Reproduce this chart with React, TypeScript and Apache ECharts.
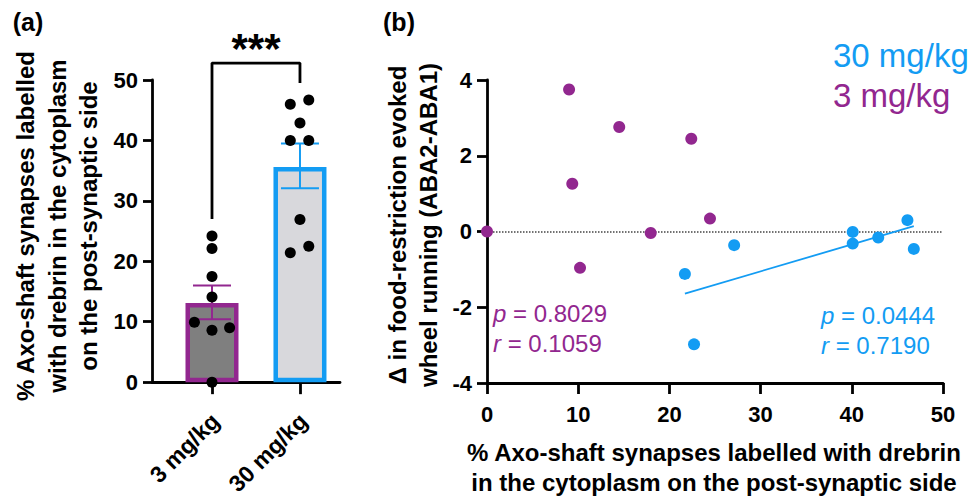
import React, { useEffect, useRef } from "react";
import * as echarts from "echarts";

// ---------- Panel (a) data ----------
const barCategories = ["3 mg/kg", "30 mg/kg"];
const barX = [1, 2];
const barMeans = [13.1, 35.6];
const errLow = [10.4, 32.1];
const errHigh = [16.0, 39.5];
const dots3 = [
  [1, 24.2], [1, 22.1], [1, 17.5], [1, 14.1],
  [0.8, 9.9], [1, 8.6], [1.2, 9.0], [1, 0],
];
const dots30 = [
  [1.89, 46.0], [2.1, 46.7], [2, 42.9], [1.89, 40.0],
  [2.1, 40.0], [2, 26.9], [1.89, 21.4], [2.1, 22.5],
];
const bracket = [[1, 27.0], [1, 52.8], [2, 52.8], [2, 49.5]];

// ---------- Panel (b) data ----------
const scatter3 = [
  [0, 0], [9.0, 3.75], [9.35, 1.26], [10.2, -0.96],
  [14.5, 2.76], [17.95, -0.04], [22.4, 2.45], [24.45, 0.34],
];
const scatter30 = [
  [21.7, -1.12], [22.7, -2.98], [27.1, -0.36], [40.1, -0.01],
  [40.1, -0.32], [42.9, -0.16], [46.1, 0.30], [46.8, -0.46],
];
const fit30 = [[21.7, -1.64], [46.8, 0.14]];

const PURPLE = "#92278f";
const BLUE = "#139cf3";
const FONT = '"Liberation Sans", Arial, Helvetica, sans-serif';

function txt(
  text: string,
  x: number,
  y: number,
  opts: { size: number; bold?: boolean; color?: string; align?: string; rotation?: number; rich?: any }
) {
  return {
    type: "text",
    x,
    y,
    rotation: opts.rotation || 0,
    silent: true,
    style: {
      text,
      fontSize: opts.size,
      fontWeight: opts.bold ? "bold" : "normal",
      fontFamily: FONT,
      fill: opts.color || "#000",
      align: opts.align || "center",
      textAlign: opts.align || "center",
      verticalAlign: "middle",
      textVerticalAlign: "middle",
      rich: opts.rich,
    },
  };
}

function italic(color: string) {
  return { i: { fontStyle: "italic", fontSize: 24, fontFamily: FONT, fill: color, color } };
}

export default function App() {
  const ref = useRef<HTMLDivElement>(null);

  useEffect(() => {
    if (!ref.current) return;
    const chart = echarts.init(ref.current, undefined, { renderer: "svg" });

    const axisLine = { show: true, onZero: false, lineStyle: { color: "#000", width: 2.8, opacity: 1 } };
    const tickStyle = { color: "#000", width: 2.8, opacity: 1 };
    const labelStyle = { color: "#000", fontSize: 22, fontWeight: "bold", fontFamily: FONT, opacity: 1 };

    const fills = ["#7f7f7f", "#d8d8dc"];
    const borders = [PURPLE, BLUE];

    const option: any = {
      animation: false,
      backgroundColor: "#fff",
      grid: [
        { left: 152, top: 80, width: 188, height: 304 },
        { left: 487, top: 80, width: 456, height: 303 },
      ],
      xAxis: [
        {
          type: "value",
          gridIndex: 0,
          min: 0.318,
          max: 2.455,
          axisLine,
          axisTick: { show: true, customValues: barX, length: 12, lineStyle: tickStyle },
          axisLabel: {
            ...labelStyle,
            fontSize: 23,
            customValues: barX,
            rotate: 45,
            margin: 22,
            align: "right",
            verticalAlign: "top",
            padding: [0, 7, 0, 0],
            formatter: (v: number) => barCategories[Math.round(v) - 1] || "",
          },
          splitLine: { show: false },
        },
        {
          type: "value",
          gridIndex: 1,
          min: 0,
          max: 50,
          interval: 10,
          axisLine,
          axisTick: { show: true, length: 11, lineStyle: tickStyle },
          axisLabel: { ...labelStyle, margin: 20 },
          splitLine: { show: false },
        },
      ],
      yAxis: [
        {
          type: "value",
          gridIndex: 0,
          min: 0,
          max: 50,
          interval: 10,
          axisLine,
          axisTick: { show: true, length: 9, lineStyle: tickStyle },
          axisLabel: { ...labelStyle, margin: 14 },
          splitLine: { show: false },
        },
        {
          type: "value",
          gridIndex: 1,
          min: -4,
          max: 4,
          interval: 2,
          axisLine,
          axisTick: { show: true, length: 10, lineStyle: tickStyle },
          axisLabel: { ...labelStyle, margin: 15 },
          splitLine: { show: false },
        },
      ],
      series: [
        {
          type: "bar",
          xAxisIndex: 0,
          yAxisIndex: 0,
          barWidth: 53,
          data: barX.map((x, i) => ({
            value: [x, barMeans[i]],
            itemStyle: { color: fills[i], borderColor: borders[i], borderWidth: 4.5 },
          })),
          z: 2,
        },
        {
          type: "custom",
          xAxisIndex: 0,
          yAxisIndex: 0,
          data: barX.map((x, i) => [x, errLow[i], errHigh[i]]),
          z: 3,
          renderItem: (params: any, api: any) => {
            const x = api.value(0);
            const lo = api.coord([x, api.value(1)]);
            const hi = api.coord([x, api.value(2)]);
            const c = borders[params.dataIndex];
            const half = 19;
            const st = { stroke: c, lineWidth: 2 };
            return {
              type: "group",
              children: [
                { type: "line", shape: { x1: lo[0], y1: lo[1], x2: hi[0], y2: hi[1] }, style: st },
                { type: "line", shape: { x1: hi[0] - half, y1: hi[1], x2: hi[0] + half, y2: hi[1] }, style: st },
                { type: "line", shape: { x1: lo[0] - half, y1: lo[1], x2: lo[0] + half, y2: lo[1] }, style: st },
              ],
            };
          },
        },
        {
          type: "scatter",
          xAxisIndex: 0,
          yAxisIndex: 0,
          data: dots3,
          symbolSize: 11,
          itemStyle: { color: "#000", opacity: 1 },
          clip: false,
          z: 4,
        },
        {
          type: "scatter",
          xAxisIndex: 0,
          yAxisIndex: 0,
          data: dots30,
          symbolSize: 11,
          itemStyle: { color: "#000", opacity: 1 },
          clip: false,
          z: 4,
        },
        {
          type: "line",
          xAxisIndex: 0,
          yAxisIndex: 0,
          data: bracket,
          symbol: "none",
          clip: false,
          lineStyle: { color: "#000", width: 2.8 },
          z: 4,
        },
        {
          type: "scatter",
          xAxisIndex: 1,
          yAxisIndex: 1,
          data: scatter3,
          symbolSize: 12,
          itemStyle: { color: PURPLE, opacity: 1 },
          clip: false,
          z: 4,
          markLine: {
            silent: true,
            symbol: "none",
            label: { show: false },
            lineStyle: { type: "dotted", color: "#444", width: 1.5 },
            data: [{ yAxis: 0 }],
            z: 1,
          },
        },
        {
          type: "scatter",
          xAxisIndex: 1,
          yAxisIndex: 1,
          data: scatter30,
          symbolSize: 12,
          itemStyle: { color: BLUE, opacity: 1 },
          clip: false,
          z: 4,
        },
        {
          type: "line",
          xAxisIndex: 1,
          yAxisIndex: 1,
          data: fit30,
          symbol: "none",
          lineStyle: { color: BLUE, width: 1.8 },
          z: 3,
        },
      ],
      graphic: [
        txt("(a)", 28, 22, { size: 25, bold: true }),
        txt("(b)", 399, 22, { size: 25, bold: true }),
        txt("***", 256, 48, { size: 42, bold: true }),
        txt("% Axo-shaft synapses labelled", 25, 226, { size: 24, bold: true, rotation: Math.PI / 2 }),
        txt("with drebrin in the cytoplasm", 57, 226, { size: 24, bold: true, rotation: Math.PI / 2 }),
        txt("on the post-synaptic side", 88, 226, { size: 24, bold: true, rotation: Math.PI / 2 }),
        txt("\u0394 in food-restriction evoked", 397, 225, { size: 24, bold: true, rotation: Math.PI / 2 }),
        txt("wheel running (ABA2-ABA1)", 428, 225, { size: 24, bold: true, rotation: Math.PI / 2 }),
        txt("% Axo-shaft synapses labelled with drebrin", 714, 452, { size: 24, bold: true }),
        txt("in the cytoplasm on the post-synaptic side", 714, 482, { size: 24, bold: true }),
        txt("{i|p} = 0.8029", 493, 313, { size: 24, color: PURPLE, align: "left", rich: italic(PURPLE) }),
        txt("{i|r} = 0.1059", 493, 343, { size: 24, color: PURPLE, align: "left", rich: italic(PURPLE) }),
        txt("{i|p} = 0.0444", 821, 315, { size: 24, color: BLUE, align: "left", rich: italic(BLUE) }),
        txt("{i|r} = 0.7190", 821, 345, { size: 24, color: BLUE, align: "left", rich: italic(BLUE) }),
        txt("30 mg/kg", 833, 55, { size: 33, color: BLUE, align: "left" }),
        txt("3 mg/kg", 833, 95, { size: 33, color: PURPLE, align: "left" }),
      ],
    };

    chart.setOption(option);
    return () => chart.dispose();
  }, []);

  return (
    <div
      ref={ref}
      style={{ position: "fixed", left: 0, top: 0, width: 971, height: 498, background: "#fff" }}
    />
  );
}
